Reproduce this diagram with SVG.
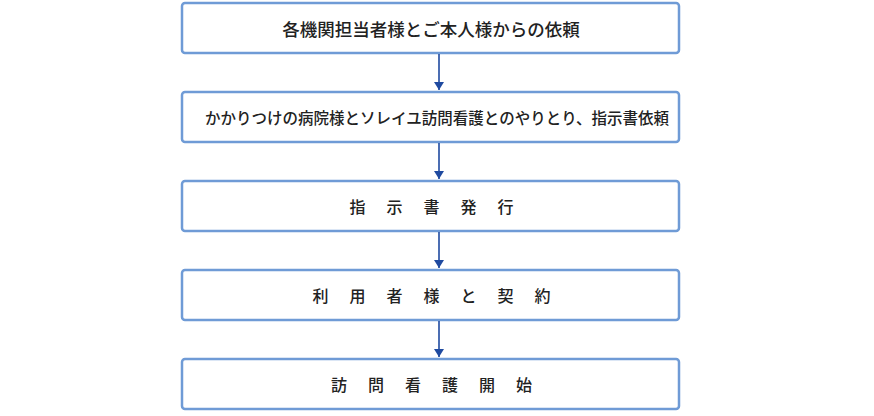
<svg xmlns="http://www.w3.org/2000/svg" width="874" height="416" viewBox="0 0 874 416">
<style>
.b{fill:#fff;stroke:#6f9bd6;stroke-width:2.5}
.t{font-family:"Noto Sans CJK JP",sans-serif;font-size:16px;font-weight:500;fill:#222;text-anchor:middle;dominant-baseline:central}
.s{font-size:15.5px}
.w{letter-spacing:21px}
.c{stroke:#1f4aa0;stroke-width:1.6;fill:none;marker-end:url(#a)}
</style>
<defs><marker id="a" markerWidth="10" markerHeight="10" refX="8" refY="5" orient="auto" markerUnits="userSpaceOnUse"><path d="M0,0 L8,5 L0,10 Z" fill="#1f4aa0"/></marker></defs>
<rect width="874" height="416" fill="#fff"/>
<g id="n1"><rect class="b" x="182" y="3" width="497" height="50" rx="3"/><text class="t" x="431" y="28" style="font-size:17.5px">各機関担当者様とご本人様からの依頼</text></g>
<g id="n2"><rect class="b" x="182" y="92" width="497" height="50" rx="3"/><text class="t s" x="437" y="117">かかりつけの病院様とソレイユ訪問看護とのやりとり、指示書依頼</text></g>
<g id="n3"><rect class="b" x="182" y="181" width="497" height="50" rx="3"/><text class="t w" x="442" y="206">指示書発行</text></g>
<g id="n4"><rect class="b" x="182" y="270" width="497" height="50" rx="3"/><text class="t w" x="442" y="295">利用者様と契約</text></g>
<g id="n5"><rect class="b" x="182" y="359" width="497" height="50" rx="3"/><text class="t w" x="442" y="384">訪問看護開始</text></g>
<g id="connectors">
<line class="c" x1="439" y1="54" x2="439" y2="90"/>
<line class="c" x1="439" y1="143" x2="439" y2="179"/>
<line class="c" x1="439" y1="232" x2="439" y2="268"/>
<line class="c" x1="439" y1="321" x2="439" y2="357"/>
</g>
</svg>
